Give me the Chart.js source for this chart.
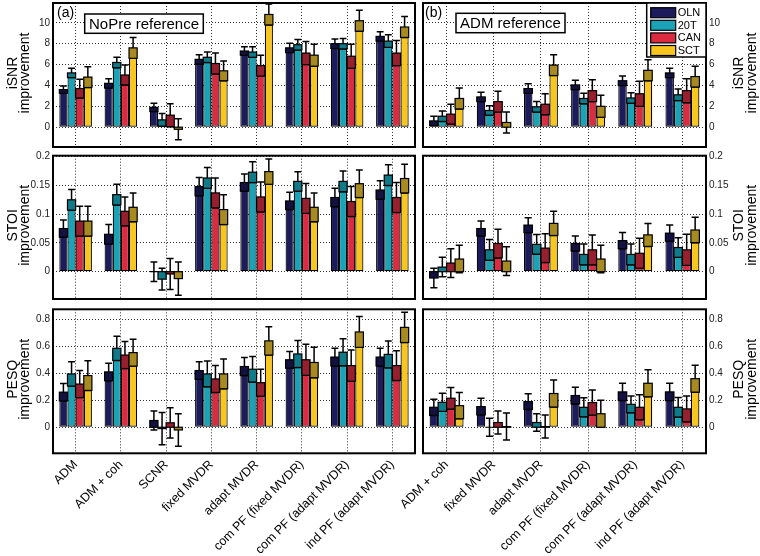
<!DOCTYPE html>
<html><head><meta charset="utf-8">
<script src="https://cdn.jsdelivr.net/npm/chart.js@4.4.1/dist/chart.umd.min.js"></script>
<style>
html,body{margin:0;padding:0;background:#fff;}
body{width:760px;height:556px;position:relative;overflow:hidden;}
canvas{position:absolute;}
</style>
</head><body>
<canvas id="a1"></canvas><canvas id="b1"></canvas>
<canvas id="a2"></canvas><canvas id="b2"></canvas>
<canvas id="a3"></canvas><canvas id="b3"></canvas>
<script>
// ---------- data ----------
const seriesNames = ['OLN','20T','CAN','SCT'];
const catsNoPre = ['ADM','ADM + coh','SCNR','fixed MVDR','adapt MVDR','com PF (fixed MVDR)','com PF (adapt MVDR)','ind PF (adapt MVDR)'];
const catsADM = ['ADM + coh','fixed MVDR','adapt MVDR','com PF (fixed MVDR)','com PF (adapt MVDR)','ind PF (adapt MVDR)'];
const isnrTicks = [0,2,4,6,8,10];
const stoiTicks = [0,0.05,0.1,0.15,0.2];
const pesqTicks = [0,0.2,0.4,0.6,0.8];

// iSNR, NoPre reference  (rows: OLN, 20T, CAN, SCT)
const isnrNoPre = [
  [3.6, 4.2, 1.9, 6.5, 7.3, 7.6, 8.0, 8.7],
  [5.2, 6.2, 0.7, 6.7, 7.2, 7.9, 8.0, 8.25],
  [3.7, 5.0, 1.15, 6.1, 5.9, 7.1, 6.8, 7.1],
  [4.8, 7.6, -0.2, 5.4, 10.8, 6.9, 10.2, 9.6]
];
const isnrNoPreErr = [
  [0.35, 0.45, 0.4, 0.45, 0.4, 0.45, 0.45, 0.45],
  [0.45, 0.5, 0.6, 0.5, 0.5, 0.5, 0.5, 0.6],
  [0.9, 0.95, 1.1, 1.0, 1.0, 1.1, 1.15, 1.2],
  [1.0, 1.0, 1.0, 0.95, 1.0, 1.05, 1.0, 1.0]
];
// iSNR, ADM reference
const isnrADM = [
  [0.6, 2.9, 3.7, 4.05, 4.45, 5.2],
  [1.05, 1.6, 1.95, 2.75, 2.8, 3.1],
  [1.25, 2.45, 2.2, 3.5, 3.2, 3.5],
  [2.75, 0.45, 5.95, 2.0, 5.45, 4.85]
];
const isnrADMErr = [
  [0.45, 0.45, 0.45, 0.45, 0.45, 0.45],
  [0.5, 0.45, 0.5, 0.5, 0.5, 0.55],
  [0.95, 1.0, 1.0, 1.05, 1.2, 1.15],
  [1.0, 1.0, 1.0, 1.05, 1.0, 1.0]
];
// STOI, NoPre reference
const stoiNoPre = [
  [0.075, 0.065, 0.0, 0.148, 0.155, 0.123, 0.129, 0.142],
  [0.125, 0.134, -0.013, 0.163, 0.173, 0.157, 0.157, 0.168],
  [0.088, 0.105, -0.004, 0.137, 0.13, 0.1275, 0.122, 0.129],
  [0.088, 0.112, -0.012, 0.108, 0.174, 0.112, 0.153, 0.162]
];
const stoiNoPreErr = [
  [0.015, 0.017, 0.017, 0.016, 0.015, 0.015, 0.016, 0.016],
  [0.018, 0.018, 0.019, 0.018, 0.018, 0.017, 0.018, 0.018],
  [0.026, 0.025, 0.027, 0.026, 0.026, 0.026, 0.026, 0.026],
  [0.026, 0.025, 0.029, 0.026, 0.022, 0.025, 0.024, 0.025]
];
// STOI, ADM reference
const stoiADM = [
  [-0.011, 0.075, 0.081, 0.049, 0.054, 0.067],
  [0.008, 0.038, 0.0475, 0.030, 0.030, 0.042],
  [0.015, 0.049, 0.041, 0.038, 0.032, 0.038],
  [0.022, 0.0185, 0.084, 0.022, 0.064, 0.0725]
];
const stoiADMErr = [
  [0.017, 0.013, 0.013, 0.013, 0.014, 0.014],
  [0.017, 0.018, 0.017, 0.018, 0.018, 0.017],
  [0.025, 0.025, 0.025, 0.026, 0.026, 0.027],
  [0.024, 0.025, 0.021, 0.024, 0.02, 0.022]
];
// PESQ, NoPre reference
const pesqNoPre = [
  [0.26, 0.41, 0.05, 0.42, 0.45, 0.5, 0.52, 0.52],
  [0.395, 0.585, -0.01, 0.395, 0.43, 0.543, 0.556, 0.54],
  [0.32, 0.535, 0.033, 0.358, 0.33, 0.5, 0.457, 0.457],
  [0.383, 0.553, -0.02, 0.395, 0.64, 0.48, 0.706, 0.74]
];
const pesqNoPreErr = [
  [0.065, 0.065, 0.07, 0.065, 0.067, 0.062, 0.066, 0.066],
  [0.09, 0.09, 0.12, 0.095, 0.095, 0.1, 0.1, 0.1],
  [0.1, 0.1, 0.112, 0.1, 0.1, 0.115, 0.116, 0.11],
  [0.11, 0.1, 0.12, 0.11, 0.105, 0.113, 0.114, 0.112]
];
// PESQ, ADM reference
const pesqADM = [
  [0.148, 0.153, 0.19, 0.235, 0.262, 0.262],
  [0.185, 0.0, 0.035, 0.148, 0.17, 0.148],
  [0.215, 0.035, 0.005, 0.183, 0.148, 0.136],
  [0.16, 0.005, 0.25, 0.1, 0.326, 0.36]
];
const pesqADMErr = [
  [0.06, 0.062, 0.058, 0.062, 0.064, 0.064],
  [0.067, 0.067, 0.065, 0.07, 0.062, 0.072],
  [0.08, 0.085, 0.085, 0.093, 0.092, 0.096],
  [0.097, 0.1, 0.1, 0.1, 0.1, 0.1]
];

// ---------- styling ----------
const barColors = ['#1c1b5b','#1aa3b6','#dc2b41','#f8c61c'];
const boxColors = ['#121140','#117a88','#97202f','#a88a22'];
const FONT = "'Liberation Sans', Arial, Helvetica, sans-serif";

const errPlugin = {
  id: 'errbars',
  afterDatasetsDraw(chart) {
    const ctx = chart.ctx, ys = chart.scales.y;
    chart.data.datasets.forEach((ds, i) => {
      const meta = chart.getDatasetMeta(i);
      meta.data.forEach((bar, j) => {
        const v = ds.data[j], e = ds.errs[j];
        const x = bar.x, w = bar.width;
        const yt = ys.getPixelForValue(v + e), yb = ys.getPixelForValue(v - e);
        const cw = w * 0.42;
        ctx.save();
        ctx.strokeStyle = '#000'; ctx.lineWidth = 1.5;
        ctx.beginPath();
        ctx.moveTo(x, yt); ctx.lineTo(x, yb);
        ctx.moveTo(x - cw, yt); ctx.lineTo(x + cw, yt);
        ctx.moveTo(x - cw, yb); ctx.lineTo(x + cw, yb);
        ctx.stroke();
        let lo, hi;
        if (v >= 0) { hi = v; lo = Math.max(0, v - e); } else { lo = v; hi = Math.min(0, v + e); }
        const p1 = ys.getPixelForValue(hi), p2 = ys.getPixelForValue(lo);
        ctx.fillStyle = ds.boxColor;
        ctx.fillRect(x - w / 2, p1, w, p2 - p1);
        ctx.lineWidth = 1.2;
        ctx.strokeRect(x - w / 2, p1, w, p2 - p1);
        ctx.restore();
      });
    });
  }
};

const decoPlugin = {
  id: 'deco',
  afterDraw(chart) {
    const o = chart.options.plugins.deco;
    const ctx = chart.ctx, a = chart.chartArea;
    ctx.save();
    // frame
    ctx.strokeStyle = '#000'; ctx.lineWidth = 2;
    ctx.strokeRect(a.left, a.top, a.right - a.left, a.bottom - a.top);
    // y title
    ctx.fillStyle = '#000';
    ctx.font = '14px ' + FONT;
    ctx.textAlign = 'center'; ctx.textBaseline = 'alphabetic';
    const cy = (a.top + a.bottom) / 2 - 2;
    o.ytitle.forEach((t, k) => {
      ctx.save();
      ctx.translate(o.titleX[k], cy);
      ctx.rotate(-Math.PI / 2);
      ctx.fillText(t, 0, 0);
      ctx.restore();
    });
    // panel label
    if (o.panel) {
      ctx.font = '14px ' + FONT; ctx.textAlign = 'left';
      ctx.fillText(o.panel, o.panelX, 17);
    }
    // reference box
    if (o.refText) {
      const r = o.refBox;
      ctx.fillStyle = '#fff'; ctx.fillRect(r[0], r[1], r[2], r[3]);
      ctx.lineWidth = 1.5; ctx.strokeStyle = '#000'; ctx.strokeRect(r[0], r[1], r[2], r[3]);
      ctx.fillStyle = '#000'; ctx.font = '15px ' + FONT; ctx.textAlign = 'center'; ctx.textBaseline = 'middle';
      ctx.fillText(o.refText, r[0] + r[2] / 2, r[1] + r[3] / 2 + 1);
    }
    // legend
    if (o.legend) {
      const L = o.legend;
      ctx.fillStyle = '#fff'; ctx.fillRect(L.x, L.y, L.w, L.h);
      ctx.lineWidth = 1.5; ctx.strokeStyle = '#000'; ctx.strokeRect(L.x, L.y, L.w, L.h);
      chart.data.datasets.forEach((ds, k) => {
        const yc = L.y + 9.7 + k * 12.6;
        ctx.fillStyle = ds.backgroundColor;
        ctx.fillRect(L.x + 4, yc - 5, 25, 10);
        ctx.lineWidth = 1.2; ctx.strokeRect(L.x + 4, yc - 5, 25, 10);
        ctx.fillStyle = '#000'; ctx.font = '11px ' + FONT; ctx.textAlign = 'left'; ctx.textBaseline = 'middle';
        ctx.fillText(ds.label, L.x + 31, yc + 0.5);
      });
    }
    ctx.restore();
  }
};

function makePanel(o) {
  const cv = document.getElementById(o.id);
  cv.width = o.w; cv.height = o.h;
  cv.style.left = o.left + 'px'; cv.style.top = o.top + 'px';
  cv.style.width = o.w + 'px'; cv.style.height = o.h + 'px';
  const datasets = seriesNames.map((n, k) => ({
    label: n, data: o.vals[k], errs: o.errs[k],
    backgroundColor: barColors[k], boxColor: boxColors[k],
    borderColor: '#000', borderWidth: 1.2, borderSkipped: false,
    categoryPercentage: 0.72, barPercentage: 1.0
  }));
  new Chart(cv, {
    type: 'bar',
    data: { labels: o.cats, datasets },
    options: {
      responsive: false, animation: false, devicePixelRatio: 1,
      layout: { padding: o.pad },
      plugins: { legend: { display: false }, tooltip: { enabled: false }, deco: o.deco },
      scales: {
        x: {
          grid: { offset: false, color: '#333', lineWidth: 1, drawTicks: false },
          border: { display: false, dash: [1, 2] },
          ticks: { display: o.showX, autoSkip: false, minRotation: 45, maxRotation: 45, padding: 4,
                   color: '#000', font: { family: FONT, size: 12.5 } },
          afterFit(s) { s.height = o.xh; s.paddingLeft = 0; s.paddingRight = 0; s.paddingTop = 0; s.paddingBottom = 0; }
        },
        y: {
          position: o.side, min: o.min, max: o.max,
          afterBuildTicks(s) { s.ticks = o.ticks.map(v => ({ value: v })); },
          grid: { color: '#333', lineWidth: 1, drawTicks: false },
          border: { display: false, dash: [1, 2] },
          ticks: { padding: 3, color: '#222', font: { family: FONT, size: 10 }, callback: v => String(v) },
          afterFit(s) { s.width = o.yw; s.paddingTop = 0; s.paddingBottom = 0; s.paddingLeft = 0; s.paddingRight = 0; }
        }
      }
    },
    plugins: [errPlugin, decoPlugin]
  });
}

const rows = [
  { top: 0, h: 150, pad: { top: 3, bottom: 3 }, xh: 0, showX: false },
  { top: 149, h: 153, pad: { top: 6.7, bottom: 3 }, xh: 0, showX: false },
  { top: 302, h: 254, pad: { top: 7.3, bottom: 0 }, xh: 102.7, showX: true }
];
const ranges = [
  { min: -1.9, max: 11.9, ticks: isnrTicks, t: ['iSNR', 'improvement'] },
  { min: -0.0475, max: 0.2017, ticks: stoiTicks, t: ['STOI', 'improvement'] },
  { min: -0.193, max: 0.874, ticks: pesqTicks, t: ['PESQ', 'improvement'] }
];
const leftVals = [[isnrNoPre, isnrNoPreErr], [stoiNoPre, stoiNoPreErr], [pesqNoPre, pesqNoPreErr]];
const rightVals = [[isnrADM, isnrADMErr], [stoiADM, stoiADMErr], [pesqADM, pesqADMErr]];

const RL = 330; // right canvas left edge
rows.forEach((r, i) => {
  const R = ranges[i];
  makePanel({
    id: 'a' + (i + 1), left: 0, top: r.top, w: 420, h: r.h,
    pad: { left: 0, right: 5, top: r.pad.top, bottom: r.pad.bottom },
    xh: r.xh, showX: r.showX, side: 'left', yw: 53,
    cats: catsNoPre, vals: leftVals[i][0], errs: leftVals[i][1],
    min: R.min, max: R.max, ticks: R.ticks,
    deco: {
      ytitle: R.t, titleX: [16.5, 28.5],
      panel: i === 0 ? '(a)' : null, panelX: 57,
      refText: i === 0 ? 'NoPre reference' : null, refBox: [84.7, 14, 118.6, 19.3],
      legend: null
    }
  });
  makePanel({
    id: 'b' + (i + 1), left: RL, top: r.top, w: 760 - RL, h: r.h,
    pad: { left: 423 - RL, right: 0, top: r.pad.top, bottom: r.pad.bottom },
    xh: r.xh, showX: r.showX, side: 'right', yw: 54,
    cats: catsADM, vals: rightVals[i][0], errs: rightVals[i][1],
    min: R.min, max: R.max, ticks: R.ticks,
    deco: {
      ytitle: R.t, titleX: [743 - RL, 756 - RL],
      panel: i === 0 ? '(b)' : null, panelX: 425 - RL,
      refText: i === 0 ? 'ADM reference' : null, refBox: [456 - RL, 13.3, 109, 19.4],
      legend: i === 0 ? { x: 646.7 - RL, y: 3, w: 59.3, h: 54 } : null
    }
  });
});
</script>
</body></html>
